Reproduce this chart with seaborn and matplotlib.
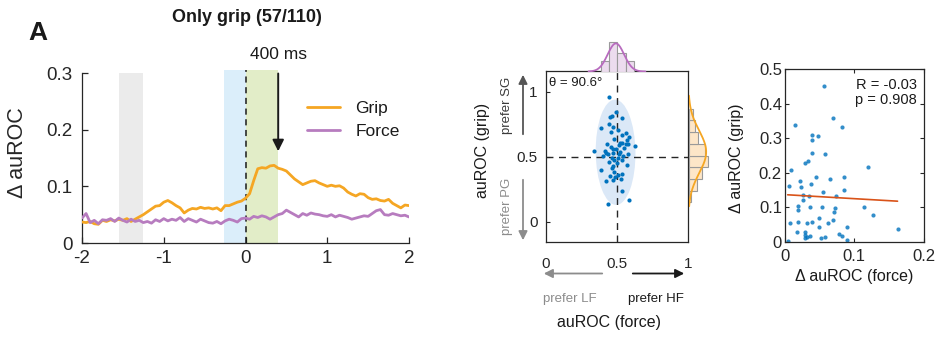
import numpy as np
import pandas as pd
import matplotlib
matplotlib.use("Agg")
import matplotlib.pyplot as plt
from matplotlib.patches import Ellipse, FancyArrowPatch
import seaborn as sns

# ---------------- data ----------------
time_s = np.linspace(-2, 2, 81)
grip = [0.037, 0.036, 0.038, 0.034, 0.033, 0.040, 0.038, 0.041, 0.039, 0.042,
        0.040, 0.043, 0.038, 0.042, 0.046, 0.050, 0.055, 0.060, 0.065, 0.066,
        0.072, 0.075, 0.071, 0.066, 0.062, 0.053, 0.058, 0.061, 0.060, 0.063,
        0.061, 0.062, 0.060, 0.062, 0.057, 0.066, 0.066, 0.069, 0.072, 0.074,
        0.079, 0.087, 0.110, 0.131, 0.133, 0.132, 0.136, 0.137, 0.132, 0.130,
        0.127, 0.120, 0.113, 0.108, 0.103, 0.106, 0.109, 0.110, 0.106, 0.103,
        0.100, 0.102, 0.100, 0.101, 0.097, 0.090, 0.086, 0.083, 0.087, 0.086,
        0.080, 0.077, 0.078, 0.075, 0.074, 0.077, 0.070, 0.066, 0.062, 0.067,
        0.066]
force = [0.044, 0.052, 0.036, 0.040, 0.034, 0.041, 0.040, 0.043, 0.038, 0.044,
         0.040, 0.037, 0.042, 0.038, 0.040, 0.036, 0.038, 0.035, 0.041, 0.038,
         0.043, 0.039, 0.042, 0.040, 0.045, 0.038, 0.043, 0.040, 0.037, 0.042,
         0.039, 0.036, 0.035, 0.038, 0.034, 0.039, 0.042, 0.040, 0.037, 0.043,
         0.044, 0.042, 0.047, 0.045, 0.048, 0.046, 0.042, 0.046, 0.050, 0.052,
         0.058, 0.054, 0.050, 0.046, 0.052, 0.049, 0.053, 0.051, 0.050, 0.048,
         0.047, 0.050, 0.046, 0.049, 0.047, 0.045, 0.042, 0.044, 0.046, 0.048,
         0.047, 0.052, 0.057, 0.059, 0.050, 0.049, 0.052, 0.050, 0.048, 0.049,
         0.046]

auroc_force = [0.446, 0.491, 0.463, 0.453, 0.537, 0.446, 0.470, 0.385, 0.509, 0.460,
               0.566, 0.585, 0.533, 0.573, 0.481, 0.521, 0.537, 0.430, 0.563, 0.580,
               0.629, 0.516, 0.549, 0.474, 0.491, 0.340, 0.413, 0.423, 0.474, 0.523,
               0.580, 0.439, 0.544, 0.404, 0.463, 0.509, 0.446, 0.479, 0.533, 0.568,
               0.467, 0.390, 0.479, 0.535, 0.449, 0.488, 0.528, 0.420, 0.472, 0.537,
               0.582, 0.434, 0.500, 0.455, 0.515, 0.470, 0.505]
auroc_grip = [0.959, 0.841, 0.815, 0.810, 0.795, 0.754, 0.733, 0.720, 0.708, 0.690,
              0.682, 0.651, 0.667, 0.631, 0.636, 0.605, 0.605, 0.600, 0.600, 0.595,
              0.585, 0.592, 0.567, 0.559, 0.559, 0.541, 0.544, 0.533, 0.533, 0.538,
              0.521, 0.521, 0.508, 0.508, 0.490, 0.492, 0.464, 0.472, 0.472, 0.438,
              0.413, 0.400, 0.387, 0.369, 0.354, 0.344, 0.333, 0.315, 0.323, 0.241,
              0.167, 0.138, 0.455, 0.575, 0.520, 0.430, 0.360]

top_hist_edges = [0.385, 0.444, 0.503, 0.562, 0.621]
top_hist_counts = [9, 26, 16, 9]
right_hist_edges = [0.15, 0.24, 0.33, 0.42, 0.51, 0.60, 0.69, 0.78, 0.87]
right_hist_counts = [2, 6, 10, 14, 12, 7, 5, 3]

theta_deg = 90.6
ellipse_center = (0.49, 0.535)
ellipse_major, ellipse_minor = 0.81, 0.28

d_force = [0.0569, 0.0148, 0.0689, 0.0818, 0.0397, 0.0397, 0.0483, 0.0388, 0.0579, 0.0339,
           0.0291, 0.0086, 0.119, 0.0449, 0.0655, 0.0851, 0.0224, 0.0062, 0.023, 0.0856,
           0.0373, 0.0545, 0.0267, 0.0345, 0.0737, 0.0267, 0.0195, 0.0195, 0.0363, 0.054,
           0.0722, 0.0708, 0.1143, 0.127, 0.0076, 0.0195, 0.0316, 0.0388, 0.0492, 0.0617,
           0.0698, 0.089, 0.0497, 0.0172, 0.0291, 0.0291, 0.0316, 0.0363, 0.0291, 0.0521,
           0.0583, 0.0784, 0.0818, 0.0899, 0.0043, 0.162]
d_grip = [0.452, 0.338, 0.358, 0.331, 0.309, 0.293, 0.306, 0.258, 0.253, 0.234,
          0.229, 0.208, 0.217, 0.188, 0.182, 0.187, 0.176, 0.160, 0.157, 0.151,
          0.167, 0.143, 0.135, 0.133, 0.132, 0.120, 0.104, 0.092, 0.101, 0.101,
          0.097, 0.087, 0.100, 0.077, 0.055, 0.057, 0.053, 0.058, 0.068, 0.055,
          0.062, 0.042, 0.044, 0.029, 0.027, 0.019, 0.015, 0.017, 0.011, 0.012,
          0.015, 0.021, 0.017, 0.005, 0.002, 0.038]
stats_text = "R = -0.03\np = 0.908"

# ---------------- style ----------------
sns.set_theme(style="white")
plt.rcParams["font.family"] = ["Liberation Sans", "DejaVu Sans"]
plt.rcParams["axes.unicode_minus"] = False
DARK = "#262626"
plt.rcParams.update({
    "axes.edgecolor": DARK, "xtick.color": DARK, "ytick.color": DARK,
    "text.color": "#1a1a1a", "axes.linewidth": 0.9,
    "xtick.direction": "in", "ytick.direction": "in",
    "xtick.bottom": True, "ytick.left": True,
})
C_GRIP = "#F5A623"
C_FORCE = "#B77CBF"
C_DOT = "#0072BD"

W, H = 939, 343
fig = plt.figure(figsize=(W / 100, H / 100), dpi=100)


def fx(px):
    return px / W


def fy(py):
    return 1 - py / H


# ---------------- panel A: time course ----------------
ax1 = fig.add_axes([fx(82), fy(243), fx(327), 170 / H])
ax1.axvspan(-1.55, -1.25, ymin=0, ymax=1, color="#ebebeb", lw=0, zorder=0)
ax1.axvspan(-0.26, 0, ymin=0, ymax=1.018, color="#dbeefa", lw=0, zorder=0, clip_on=False)
ax1.axvspan(0, 0.4, ymin=0, ymax=1.018, color="#e2edc8", lw=0, zorder=0, clip_on=False)
ax1.axvline(0, ymin=0, ymax=1.018, color="k", ls=(0, (4, 3)), lw=1.1, clip_on=False, zorder=3)

long = pd.DataFrame({"t": time_s, "Grip": grip, "Force": force}).melt(
    id_vars="t", var_name="series", value_name="d")
sns.lineplot(data=long, x="t", y="d", hue="series", hue_order=["Grip", "Force"],
             palette={"Grip": C_GRIP, "Force": C_FORCE}, lw=2, ax=ax1, zorder=4)
ax1.set_xlim(-2, 2)
ax1.set_ylim(0, 0.3)
ax1.set_xticks([-2, -1, 0, 1, 2])
ax1.set_xticklabels(["-2", "-1", "0", "1", "2"])
ax1.set_yticks([0, 0.1, 0.2, 0.3])
ax1.set_yticklabels(["0", "0.1", "0.2", "0.3"])
ax1.tick_params(axis="both", labelsize=13.5, length=4, width=0.9, bottom=True, left=True)
ax1.tick_params(axis="y", pad=7)
ax1.tick_params(axis="x", pad=5)
sns.despine(ax=ax1)
ax1.set_xlabel("")
ax1.set_ylabel("Δ auROC", fontsize=15.5)
ax1.yaxis.set_label_coords(-0.165, 0.53)
leg = ax1.legend(frameon=False, loc="upper left", bbox_to_anchor=(0.64, 0.93),
                 fontsize=12.5, handlelength=1.9, handletextpad=0.9, labelspacing=0.45)
for line in leg.get_lines():
    line.set_linewidth(2)
ax1.annotate("", xy=(0.4, 0.157), xytext=(0.4, 0.304),
             arrowprops=dict(arrowstyle="-|>", color="k", lw=1.4, mutation_scale=17),
             annotation_clip=False, zorder=5)
ax1.text(0.4, 0.332, "400 ms", ha="center", va="center", fontsize=12.5)

fig.text(fx(247), fy(18), "Only grip (57/110)", ha="center", va="center",
         fontsize=13, fontweight="bold")
fig.text(fx(38), fy(33), "A", ha="center", va="center", fontsize=19, fontweight="bold")

# ---------------- panel: auROC scatter with marginals ----------------
ax2 = fig.add_axes([fx(546), fy(242), fx(142), 171 / H])
ax2.add_patch(Ellipse(ellipse_center, ellipse_major, ellipse_minor, angle=theta_deg,
                      facecolor="#dbe8f7", edgecolor="none", zorder=1))
ax2.axvline(0.5, color=DARK, ls=(0, (5, 4)), lw=1.0, zorder=2)
ax2.axhline(0.5, color=DARK, ls=(0, (5, 4)), lw=1.0, zorder=2)
sns.scatterplot(x=auroc_force, y=auroc_grip, s=9, color=C_DOT, linewidth=0, ax=ax2, zorder=3)
ax2.set_xlim(0, 1)
ax2.set_ylim(-0.155, 1.16)
ax2.set_xticks([0, 0.5, 1])
ax2.set_xticklabels(["0", "0.5", "1"])
ax2.set_yticks([0, 0.5, 1])
ax2.set_yticklabels(["0", "0.5", "1"])
ax2.tick_params(axis="x", labelsize=11, length=0, pad=11)
ax2.tick_params(axis="y", labelsize=11, length=3, width=0.8, pad=6, left=True)
for s in ax2.spines.values():
    s.set_visible(True)
ax2.text(0.02, 0.965, f"θ = {theta_deg}°", transform=ax2.transAxes, ha="left", va="top",
         fontsize=9.5)

ax_top = fig.add_axes([fx(546), fy(71.5), fx(142), 36 / H])
sns.histplot(x=[(a + b) / 2 for a, b in zip(top_hist_edges[:-1], top_hist_edges[1:])],
             weights=top_hist_counts, bins=top_hist_edges, color="#ecdcee", alpha=1,
             edgecolor="#9a9a9a", linewidth=0.8, ax=ax_top)
mx, sx = np.mean(auroc_force), np.std(auroc_force)
gx = np.linspace(0.3, 0.7, 200)
bw_top = top_hist_edges[1] - top_hist_edges[0]
ax_top.plot(gx, sum(top_hist_counts) * bw_top * np.exp(-0.5 * ((gx - mx) / sx) ** 2)
            / (sx * np.sqrt(2 * np.pi)), color="#b86bbf", lw=1.3)
ax_top.set_xlim(0, 1)
ax_top.set_ylim(0, 31.2)
ax_top.axis("off")

ax_right = fig.add_axes([fx(688.5), fy(242), fx(28), 171 / H])
sns.histplot(y=[(a + b) / 2 for a, b in zip(right_hist_edges[:-1], right_hist_edges[1:])],
             weights=right_hist_counts, bins=right_hist_edges, color="#fde6c8", alpha=1,
             edgecolor="#9a9a9a", linewidth=0.8, ax=ax_right)
my, sy = np.mean(auroc_grip), np.std(auroc_grip)
gy = np.linspace(0.12, 0.97, 200)
bw_r = right_hist_edges[1] - right_hist_edges[0]
ax_right.plot(sum(right_hist_counts) * bw_r * np.exp(-0.5 * ((gy - my) / sy) ** 2)
              / (sy * np.sqrt(2 * np.pi)), gy, color=C_GRIP, lw=1.3)
ax_right.set_ylim(-0.155, 1.16)
ax_right.set_xlim(0, 20.6)
ax_right.axis("off")

fig.text(fx(483), fy(150), "auROC (grip)", rotation=90, ha="center", va="center", fontsize=11.5)
fig.text(fx(507), fy(105), "prefer SG", rotation=90, ha="center", va="center", fontsize=9.5,
         color="#3a3a3a")
fig.text(fx(507), fy(206), "prefer PG", rotation=90, ha="center", va="center", fontsize=9.5,
         color="#8c8c8c")
fig.text(fx(570), fy(299), "prefer LF", ha="center", va="center", fontsize=9.5, color="#8c8c8c")
fig.text(fx(656), fy(299), "prefer HF", ha="center", va="center", fontsize=9.5, color="#1a1a1a")
fig.text(fx(609), fy(323), "auROC (force)", ha="center", va="center", fontsize=11.5)


def farrow(p0, p1, color):
    fig.add_artist(FancyArrowPatch((fx(p0[0]), fy(p0[1])), (fx(p1[0]), fy(p1[1])),
                                   transform=fig.transFigure, arrowstyle="-|>",
                                   mutation_scale=13, lw=1.3, color=color))


farrow((523, 137), (523, 72), "#555555")
farrow((523, 177), (523, 243), "#8c8c8c")
farrow((605, 273.5), (541, 273.5), "#8c8c8c")
farrow((630, 273.5), (687, 273.5), "#1a1a1a")

# ---------------- panel: delta scatter ----------------
ax3 = fig.add_axes([fx(784.7), fy(241.7), fx(139.3), 172.7 / H])
sns.regplot(x=d_force, y=d_grip, ci=None, ax=ax3, truncate=True,
            scatter_kws=dict(s=9, color=C_DOT, linewidths=0),
            line_kws=dict(color="#D95319", lw=1.2))
ax3.set_xlim(0, 0.2)
ax3.set_ylim(0, 0.5)
ax3.set_xticks([0, 0.1, 0.2])
ax3.set_xticklabels(["0", "0.1", "0.2"])
ax3.set_yticks([0, 0.1, 0.2, 0.3, 0.4, 0.5])
ax3.set_yticklabels(["0", "0.1", "0.2", "0.3", "0.4", "0.5"])
ax3.tick_params(axis="both", labelsize=12, length=3, width=0.8,
                bottom=True, left=True, top=True, right=True)
ax3.tick_params(axis="x", pad=5)
ax3.tick_params(axis="y", pad=2)
for s in ax3.spines.values():
    s.set_visible(True)
ax3.text(0.948, 0.95, stats_text, transform=ax3.transAxes, ha="right", va="top",
         fontsize=10.5, linespacing=1.15)
fig.text(fx(854), fy(277), "Δ auROC (force)", ha="center", va="center", fontsize=11.5)
fig.text(fx(737), fy(158), "Δ auROC (grip)", rotation=90, ha="center", va="center",
         fontsize=11.5)

fig.savefig("out.png", dpi=100)
